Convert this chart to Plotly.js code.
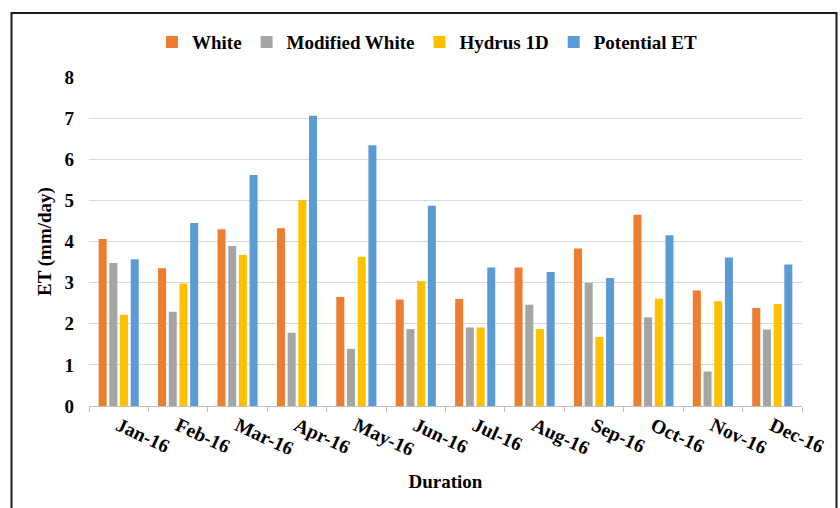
<!DOCTYPE html>
<html>
<head>
<meta charset="utf-8">
<script src="https://cdn.plot.ly/plotly-3.0.1.min.js"></script>
<style>
  html, body { margin: 0; padding: 0; background: #ffffff; }
  #chart { width: 840px; height: 508px; }
</style>
</head>
<body>
<div id="chart"></div>
<script>
// Monthly evapotranspiration estimates, 2016 (mm/day)
const months = ['Jan-16', 'Feb-16', 'Mar-16', 'Apr-16', 'May-16', 'Jun-16',
                'Jul-16', 'Aug-16', 'Sep-16', 'Oct-16', 'Nov-16', 'Dec-16'];
const white         = [4.06, 3.35, 4.30, 4.32, 2.65, 2.59, 2.60, 3.37, 3.83, 4.65, 2.81, 2.38];
const modifiedWhite = [3.48, 2.29, 3.89, 1.78, 1.39, 1.87, 1.91, 2.46, 3.00, 2.16, 0.84, 1.86];
const hydrus1D      = [2.22, 2.98, 3.67, 5.01, 3.63, 3.04, 1.91, 1.87, 1.68, 2.61, 2.55, 2.48];
const potentialET   = [3.57, 4.45, 5.62, 7.06, 6.34, 4.87, 3.37, 3.26, 3.11, 4.15, 3.61, 3.44];
const yTicks = [0, 1, 2, 3, 4, 5, 6, 7, 8];

const FONT = '"Liberation Serif", "Times New Roman", serif';

const seriesDefs = [
  { name: 'White',          y: white,         color: '#ED7D31' },
  { name: 'Modified White', y: modifiedWhite, color: '#A5A5A5' },
  { name: 'Hydrus 1D',      y: hydrus1D,      color: '#FFC000' },
  { name: 'Potential ET',   y: potentialET,   color: '#5B9BD5' }
];

const traces = seriesDefs.map(s => ({
  type: 'bar',
  name: s.name,
  x: months,
  y: s.y,
  marker: { color: s.color, line: { width: 0 } },
  hoverinfo: 'x+y+name'
}));

const layout = {
  width: 840,
  height: 508,
  paper_bgcolor: '#ffffff',
  plot_bgcolor: '#ffffff',
  margin: { l: 89, r: 38, t: 77, b: 102, pad: 0 },
  barmode: 'group',
  bargap: 0.28,
  bargroupgap: 0.25,
  font: { family: FONT, size: 19, color: '#000000' },
  showlegend: true,
  legend: {
    orientation: 'h',
    x: 0.474, xanchor: 'center',
    y: 1.106, yanchor: 'middle',
    font: { family: FONT, size: 19, color: '#000000', weight: 'bold' },
    itemwidth: 30,
    traceorder: 'normal',
    bgcolor: 'rgba(0,0,0,0)'
  },
  xaxis: {
    type: 'category',
    tickangle: 25,
    tickson: 'boundaries',
    ticks: 'outside',
    ticklen: 5,
    tickwidth: 1,
    tickcolor: '#bfbfbf',
    showline: true,
    linecolor: '#bfbfbf',
    linewidth: 1,
    showgrid: false,
    zeroline: false,
    tickfont: { family: FONT, size: 19.5, color: '#000000', weight: 'bold' },
    title: {
      text: 'Duration',
      font: { family: FONT, size: 19, color: '#000000', weight: 'bold' },
      standoff: 15
    },
    automargin: false
  },
  yaxis: {
    range: [0, 8],
    tickvals: yTicks,
    ticktext: yTicks.map(String),
    showline: false,
    ticks: '',
    ticklabelstandoff: 14,
    showgrid: true,
    gridcolor: '#d9d9d9',
    gridwidth: 1,
    zeroline: false,
    tickfont: { family: FONT, size: 19, color: '#000000', weight: 'bold' },
    title: {
      text: 'ET (mm/day)',
      font: { family: FONT, size: 19, color: '#000000', weight: 'bold' },
      standoff: 7
    },
    automargin: false
  },
  shapes: [{
    // outer frame around the whole figure
    type: 'rect',
    xref: 'paper', yref: 'paper',
    x0: -0.1087, x1: 1.0484,
    y0: -0.32, y1: 1.1945,
    line: { color: '#1a1a1a', width: 2 },
    fillcolor: 'rgba(0,0,0,0)',
    layer: 'above'
  }]
};

Plotly.newPlot('chart', traces, layout, { displayModeBar: false, staticPlot: true });
</script>
</body>
</html>
